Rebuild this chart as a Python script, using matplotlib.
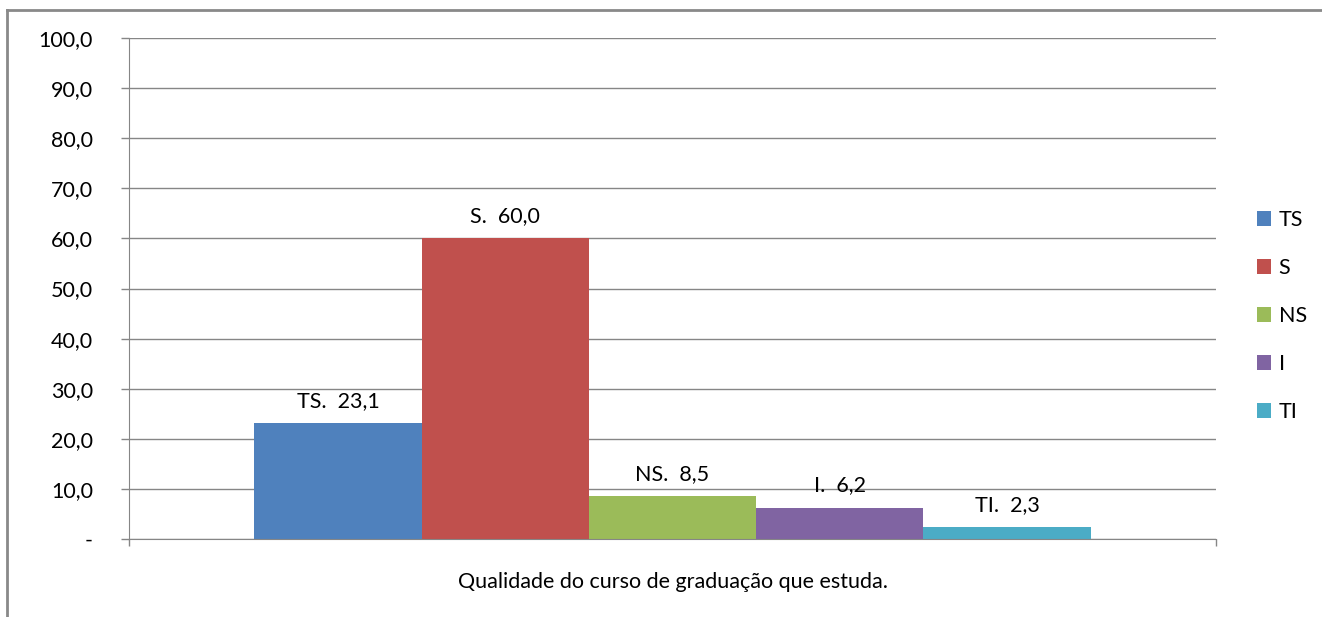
import matplotlib
matplotlib.use("Agg")
import matplotlib.pyplot as plt
from matplotlib.lines import Line2D

plt.rcParams['font.family'] = ['Lato', 'DejaVu Sans']

series = ['TS', 'S', 'NS', 'I', 'TI']
values = [23.1, 60.0, 8.5, 6.2, 2.3]
colors = ['#4F81BD', '#C0504D', '#9BBB59', '#8064A2', '#4BACC6']
yticks = [0, 10, 20, 30, 40, 50, 60, 70, 80, 90, 100]
ytick_labels = ['-', '10,0', '20,0', '30,0', '40,0', '50,0', '60,0', '70,0', '80,0', '90,0', '100,0']
xlabel = 'Qualidade do curso de graduação que estuda.'

fs = 15.5

fig = plt.figure(figsize=(13.22, 6.17), dpi=100)
ax = fig.add_axes([0.0976, 0.1264, 0.8222, 0.812])

# excel style: 5 bars in one category, gap width 150%
w = 1 / 6.5
start = -2.5 * w
for i, (s, v, c) in enumerate(zip(series, values, colors)):
    x = start + (i + 0.5) * w
    ax.bar(x, v, width=w, color=c, label=s, zorder=3)
    ax.annotate(s + '.  ' + f'{v:.1f}'.replace('.', ','), (x, v),
                xytext=(0, 9), textcoords='offset points',
                ha='center', va='bottom', fontsize=fs, color='#000000')

ax.set_xlim(-0.5, 0.5)
ax.set_ylim(0, 100)
ax.set_yticks(yticks)
ax.set_yticklabels(ytick_labels, fontsize=fs)
ax.set_xticks([-0.5, 0.5])
ax.set_xticklabels(['', ''])
ax.tick_params(axis='y', length=6, width=1, color='#868686', pad=20)
ax.tick_params(axis='x', length=5, width=1, color='#868686')
ax.grid(axis='y', color='#868686', linewidth=1, zorder=0)
for sp in ['top', 'right']:
    ax.spines[sp].set_visible(False)
ax.spines['left'].set_color('#868686')
ax.spines['bottom'].set_color('#868686')
ax.spines['bottom'].set_zorder(4)

ax.set_xlabel(xlabel, fontsize=fs, labelpad=15)

ax.legend(loc='center left', bbox_to_anchor=(1.03, 0.445), frameon=False,
          fontsize=fs, handlelength=0.65, handleheight=0.65,
          handletextpad=0.35, labelspacing=1.3, borderaxespad=0)

# chart border (only top and left edges visible)
fig.add_artist(Line2D([7 / 1322, 1], [1 - 10 / 617, 1 - 10 / 617],
                      transform=fig.transFigure, color='#898989', linewidth=2))
fig.add_artist(Line2D([7 / 1322, 7 / 1322], [0, 1 - 10 / 617],
                      transform=fig.transFigure, color='#898989', linewidth=2))

fig.savefig('out.png', dpi=100)
